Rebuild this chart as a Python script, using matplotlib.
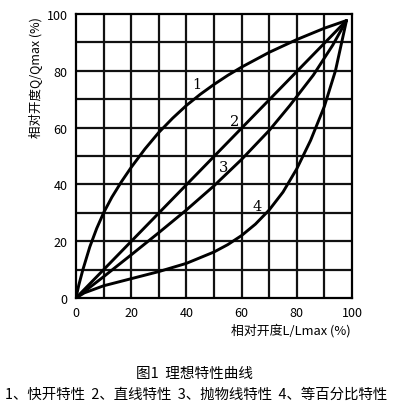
import numpy as np
import matplotlib.pyplot as plt

plt.rcParams['font.family'] = ['Noto Sans CJK SC', 'DejaVu Sans']

# 1 快开特性
x1 = [0, 1, 2.5, 5, 7.5, 10, 13, 16.5, 20, 25, 30, 35, 40, 45, 50, 55, 60, 70, 80, 90, 98]
y1 = [0, 4.5, 10, 18, 24.5, 30, 35.5, 41, 46, 52.5, 58.3, 63.3, 67.8, 71.7, 75.2, 78.4,
      81.3, 86.5, 91, 95, 97.7]
# 2 直线特性
x2 = [0, 98]
y2 = [0, 97.7]
# 3 抛物线特性
x3 = [0, 10, 20, 30, 40, 50, 60, 70, 77.5, 86, 93, 98]
y3 = [0, 7.5, 15.2, 23, 31, 39.5, 48.8, 59, 67.8, 78.5, 89, 97.7]
# 4 等百分比特性
x4 = [0, 3, 10, 20, 30, 40, 50, 55, 60, 65, 70, 75, 80, 85, 90, 94, 98]
y4 = [0, 1.8, 4.3, 6.8, 9.3, 12.2, 16.2, 18.8, 22, 26, 31, 37.3, 45.5, 55.5, 67.5, 80, 97.7]

curve_labels = ['1', '2', '3', '4']
label_x = [43.7, 57.6, 53.6, 65.7]
label_y = [75.4, 62.4, 46, 32.5]

ticks = [0, 20, 40, 60, 80, 100]

fig = plt.figure(figsize=(3.93, 4.10), dpi=100)
ax = fig.add_axes([76 / 393, 1 - 299 / 410, 276 / 393, 284 / 410])

ax.set_xlim(0, 100)
ax.set_ylim(0, 100)
for g in range(10, 100, 10):
    ax.axvline(g, color='#111111', lw=1.6, zorder=1)
    ax.axhline(g, color='#111111', lw=1.6, zorder=1)
for s in ax.spines.values():
    s.set_linewidth(1.6)

for xs, ys in [(x1, y1), (x2, y2), (x3, y3), (x4, y4)]:
    ax.plot(xs, ys, color='black', lw=2.1, zorder=2,
            solid_capstyle='round', solid_joinstyle='round')

for t, px, py in zip(curve_labels, label_x, label_y):
    ax.text(px, py, t, fontsize=10.5, family='DejaVu Serif', ha='center', va='center', zorder=3)

ax.set_xticks(ticks)
ax.set_yticks(ticks)
ax.tick_params(length=0, labelsize=9, pad=6)

fig.text(35 / 393, 1 - 17 / 410, '相对开度Q/Qmax (%)', rotation=90, ha='center', va='top',
         fontsize=9, weight='medium')
fig.text(351 / 393, 1 - 331 / 410, '相对开度L/Lmax (%)', ha='right', va='center',
         fontsize=9.3, weight='medium')
fig.text(195 / 393, 1 - 374 / 410, '图1  理想特性曲线', ha='center', va='center', fontsize=10.5)
fig.text(196 / 393, 1 - 395 / 410, '1、快开特性  2、直线特性  3、抛物线特性  4、等百分比特性',
         ha='center', va='center', fontsize=10.4)

fig.savefig('out.png', dpi=100)
